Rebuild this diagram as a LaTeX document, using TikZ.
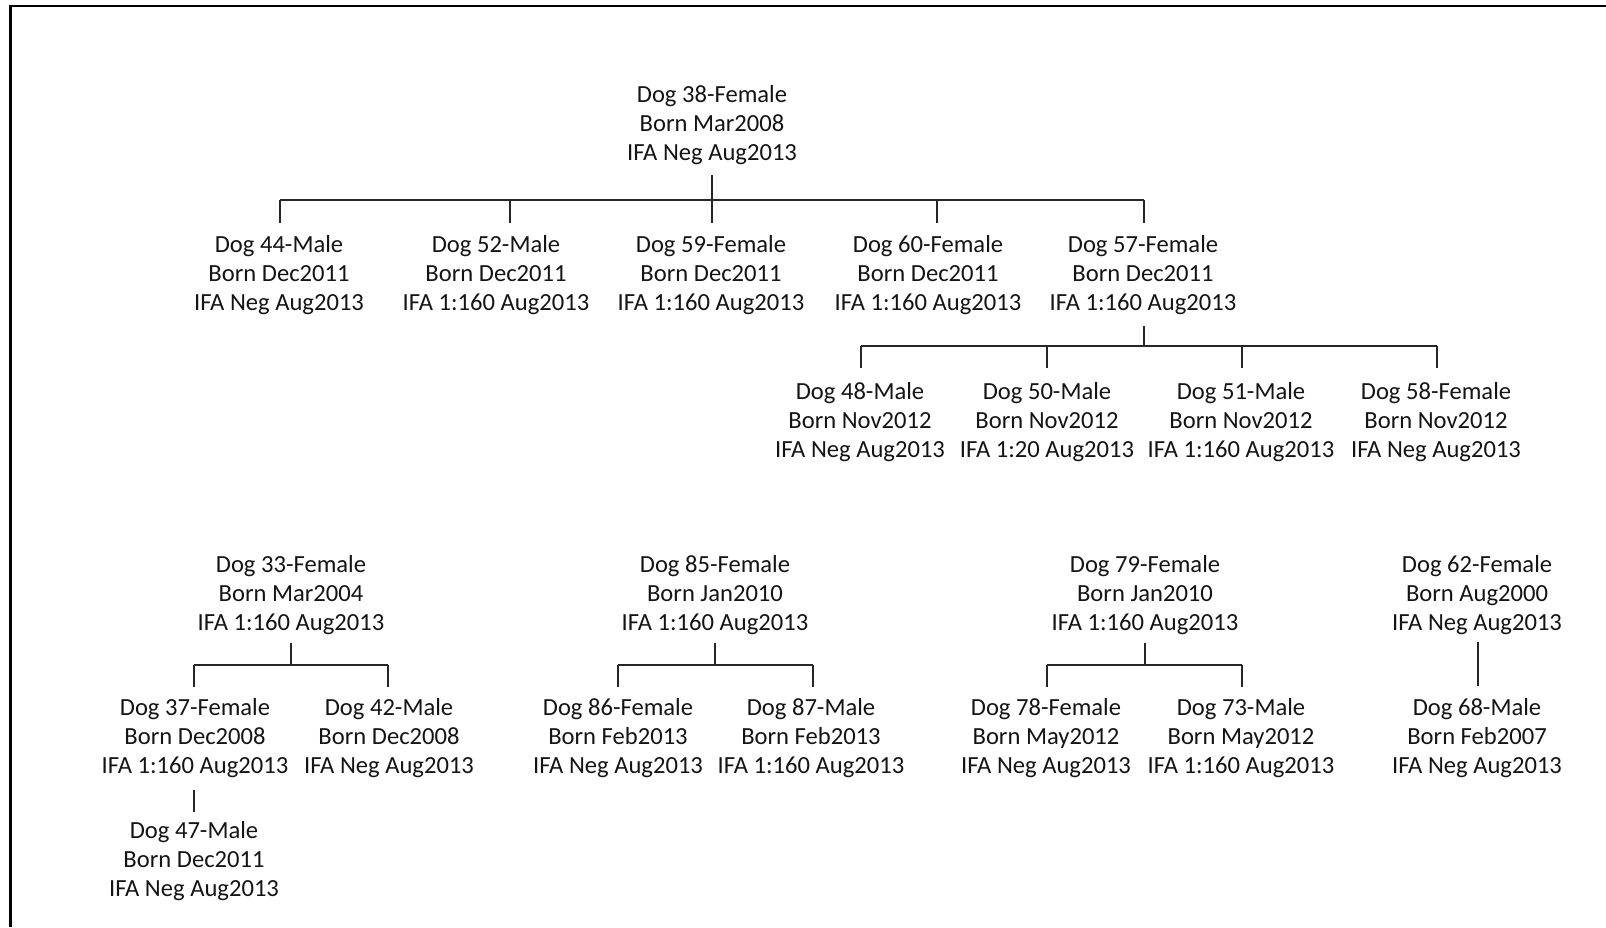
\documentclass[tikz,border=0pt]{standalone}
\usepackage{fontspec}
\setmainfont{Carlito}
\begin{document}
\begin{tikzpicture}[x=0.5pt,y=-0.5pt,
  dog/.style={align=center,inner sep=0pt,text=black!92,font=\fontsize{12.3}{14.35}\selectfont},
  link/.style={line width=1pt,black!85}]
\useasboundingbox (0,0) rectangle (1606,927);
\draw[line width=1.2pt] (10.5,927) -- (10.5,6) -- (1606,6);
% top tree
\node[dog] (r38) at (712,125) {Dog 38-Female\\Born Mar2008\\IFA Neg Aug2013};
\node[dog] (c44) at (279,275) {Dog 44-Male\\Born Dec2011\\IFA Neg Aug2013};
\node[dog] (c52) at (496,275) {Dog 52-Male\\Born Dec2011\\IFA 1:160 Aug2013};
\node[dog] (c59) at (711,275) {Dog 59-Female\\Born Dec2011\\IFA 1:160 Aug2013};
\node[dog] (c60) at (928,275) {Dog 60-Female\\Born Dec2011\\IFA 1:160 Aug2013};
\node[dog] (c57) at (1143,275) {Dog 57-Female\\Born Dec2011\\IFA 1:160 Aug2013};
\coordinate (j44) at (279.5,200);
\coordinate (j52) at (510,200);
\coordinate (j59) at (712,200);
\coordinate (j60) at (937,200);
\coordinate (j57) at (1144,200);
\draw[link] (712,175) -- (j59);
\draw[link] (j44) -- (j57);
\foreach \j in {j44,j52,j59,j60,j57} \draw[link] (\j) -- ++(0,23);
% Dog 57 litter
\node[dog] (g48) at (860,422) {Dog 48-Male\\Born Nov2012\\IFA Neg Aug2013};
\node[dog] (g50) at (1047,422) {Dog 50-Male\\Born Nov2012\\IFA 1:20 Aug2013};
\node[dog] (g51) at (1241,422) {Dog 51-Male\\Born Nov2012\\IFA 1:160 Aug2013};
\node[dog] (g58) at (1436,422) {Dog 58-Female\\Born Nov2012\\IFA Neg Aug2013};
\coordinate (k48) at (860.5,346);
\coordinate (k50) at (1047,346);
\coordinate (k51) at (1241.5,346);
\coordinate (k58) at (1437,346);
\coordinate (k57) at (1144,346);
\draw[link] (1144,326) -- (k57);
\draw[link] (k48) -- (k58);
\foreach \j in {k48,k50,k51,k58} \draw[link] (\j) -- ++(0,22);
% Dog 33 family
\node[dog] (d33) at (291,595) {Dog 33-Female\\Born Mar2004\\IFA 1:160 Aug2013};
\node[dog] (d37) at (195,738) {Dog 37-Female\\Born Dec2008\\IFA 1:160 Aug2013};
\node[dog] (d42) at (389,738) {Dog 42-Male\\Born Dec2008\\IFA Neg Aug2013};
\node[dog] (d47) at (194,861) {Dog 47-Male\\Born Dec2011\\IFA Neg Aug2013};
\coordinate (m33) at (290.7,665);
\coordinate (m37) at (194,665);
\coordinate (m42) at (388.3,665);
\draw[link] (290.7,643) -- (m33);
\draw[link] (m37) -- (m42);
\draw[link] (m37) -- ++(0,22);
\draw[link] (m42) -- ++(0,22);
\draw[link] (194,790) -- (194,812);
% Dog 85 family
\node[dog] (d85) at (715,595) {Dog 85-Female\\Born Jan2010\\IFA 1:160 Aug2013};
\node[dog] (d86) at (618,738) {Dog 86-Female\\Born Feb2013\\IFA Neg Aug2013};
\node[dog] (d87) at (811,738) {Dog 87-Male\\Born Feb2013\\IFA 1:160 Aug2013};
\coordinate (n85) at (715,665);
\coordinate (n86) at (618,665);
\coordinate (n87) at (813,665);
\draw[link] (715,643) -- (n85);
\draw[link] (n86) -- (n87);
\draw[link] (n86) -- ++(0,22);
\draw[link] (n87) -- ++(0,22);
% Dog 79 family
\node[dog] (d79) at (1145,595) {Dog 79-Female\\Born Jan2010\\IFA 1:160 Aug2013};
\node[dog] (d78) at (1046,738) {Dog 78-Female\\Born May2012\\IFA Neg Aug2013};
\node[dog] (d73) at (1241,738) {Dog 73-Male\\Born May2012\\IFA 1:160 Aug2013};
\coordinate (p79) at (1145,665);
\coordinate (p78) at (1047,665);
\coordinate (p73) at (1242,665);
\draw[link] (1145,643) -- (p79);
\draw[link] (p78) -- (p73);
\draw[link] (p78) -- ++(0,22);
\draw[link] (p73) -- ++(0,22);
% Dog 62 family
\node[dog] (d62) at (1477,595) {Dog 62-Female\\Born Aug2000\\IFA Neg Aug2013};
\node[dog] (d68) at (1477,738) {Dog 68-Male\\Born Feb2007\\IFA Neg Aug2013};
\draw[link] (1477.7,642) -- (1477.7,686);
\end{tikzpicture}
\end{document}
